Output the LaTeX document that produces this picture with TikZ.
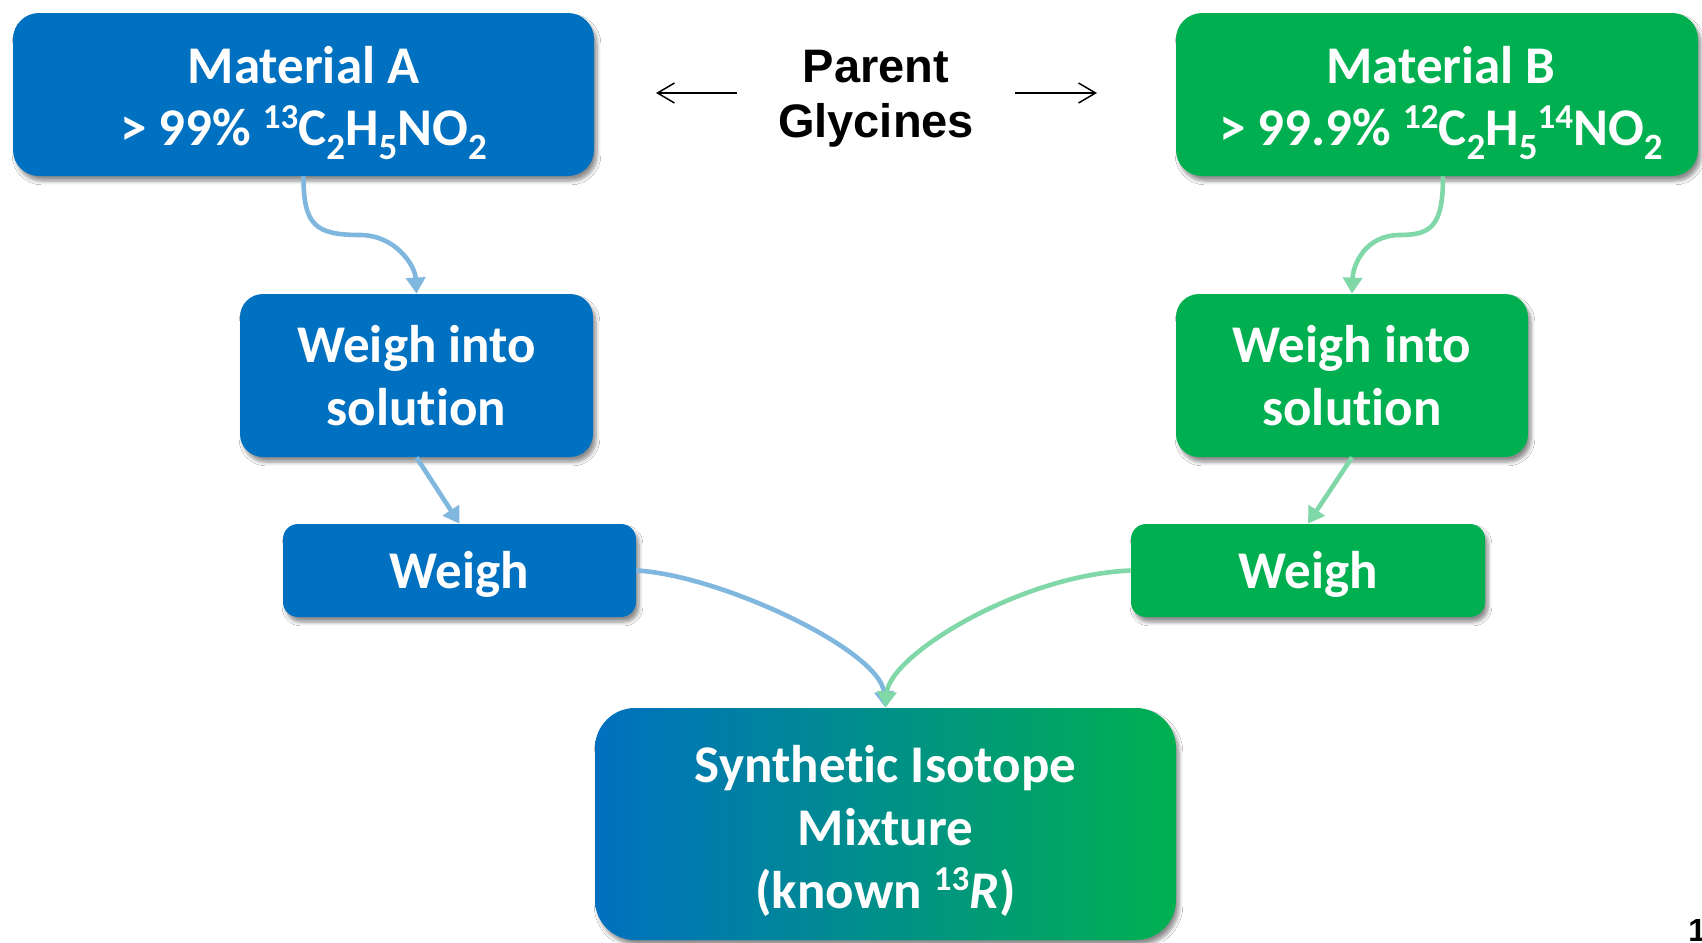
\documentclass[tikz,border=0pt]{standalone}
\usepackage{fontspec}
\setmainfont{Carlito}[Ligatures=NoCommon]
\newfontfamily\arialfont{Liberation Sans}
\usetikzlibrary{arrows.meta,shadows.blur}
\definecolor{boxblue}{HTML}{0070C0}
\definecolor{boxgreen}{HTML}{00B050}
\colorlet{lineblue}{boxblue!50!white}
\colorlet{linegreen}{boxgreen!50!white}
\newcommand{\isub}[1]{\raisebox{-7pt}{\fontsize{18.5}{18.5}\selectfont #1}}
\newcommand{\isup}[1]{\raisebox{9pt}{\fontsize{17.5}{17.5}\selectfont #1}}
\newcommand{\lines}[1]{\begin{tabular}[t]{@{}c@{}}#1\end{tabular}}
\tikzset{
  card/.style={rounded corners=#1, inner sep=0pt,
    blur shadow={shadow xshift=1.5pt, shadow yshift=-2.5pt, shadow blur steps=6, shadow opacity=45}},
  card/.default=12pt,
  bluecard/.style={card=#1, fill=boxblue},
  bluecard/.default=12pt,
  greencard/.style={card=#1, fill=boxgreen},
  greencard/.default=12pt,
  cardtext/.style={text=white, inner sep=0pt, anchor=base,
    font=\fontsize{26.5}{31.5}\selectfont\bfseries},
  bluecon/.style={draw=lineblue, line width=2.3pt, -{Triangle[length=8pt,width=9.5pt,fill=lineblue]}},
  greencon/.style={draw=linegreen, line width=2.3pt, -{Triangle[length=8pt,width=9.5pt,fill=linegreen]}},
  thinarr/.style={draw=black, line width=0.75pt, -{Straight Barb[length=8.5pt,width=10pt]}},
}
\begin{document}
\begin{tikzpicture}[x=0.5pt,y=-0.5pt]
\fill[white] (0,0) rectangle (1702,942);
\useasboundingbox (0,0) rectangle (1702,942);

% top row
\node[bluecard=13pt, minimum width=290.5pt, minimum height=81.5pt] (matA) at (303.5,94.5) {};
\node[cardtext] (matAt) at (303.5,83)
  {\lines{Material A\\> 99\% \isup{13}C\isub{2}H\isub{5}NO\isub{2}}};
\node[greencard=13pt, minimum width=261pt, minimum height=81.5pt] (matB) at (1437,94.5) {};
\node[cardtext] (matBt) at (1441,83)
  {\lines{Material B\\> 99.9\% \isup{12}C\isub{2}H\isub{5}\isup{14}NO\isub{2}}};

\node[font=\arialfont\fontsize{23.5}{28}\selectfont\bfseries, inner sep=0pt, anchor=base] (pg) at (876,82)
  {\lines{Parent\\Glycines}};
\coordinate (pgLs) at (737,93);
\coordinate (pgL) at (656,93);
\coordinate (pgRs) at (1015,93);
\coordinate (pgR) at (1097,93);
\draw[thinarr] (pgLs) -- (pgL);
\draw[thinarr] (pgRs) -- (pgR);

% second row
\node[bluecard=11.5pt, minimum width=176.5pt, minimum height=81.5pt] (wA1) at (416.5,375.5) {};
\node[cardtext] (wA1t) at (416.5,362) {\lines{Weigh into\\solution}};
\node[greencard=11.5pt, minimum width=176pt, minimum height=81.5pt] (wB1) at (1352,375.5) {};
\node[cardtext] (wB1t) at (1352,362) {\lines{Weigh into\\solution}};

% third row
\node[bluecard=7.5pt, minimum width=176.5pt, minimum height=46.5pt] (wA2) at (459.5,570.5) {};
\node[cardtext] (wA2t) at (459.5,588) {Weigh};
\node[greencard=7.5pt, minimum width=177pt, minimum height=46.5pt] (wB2) at (1308,570.5) {};
\node[cardtext] (wB2t) at (1308,588) {Weigh};

% mixture
\node[card=20pt, left color=boxblue, right color=boxgreen, minimum width=290.5pt, minimum height=116pt] (syn) at (885.5,824) {};
\node[cardtext] (synt) at (885.5,782)
  {\lines{Synthetic Isotope\\Mixture\\(known \isup{13}\textit{R})}};

% page number (cut off)
\node[font=\arialfont\fontsize{16}{19}\selectfont\bfseries, anchor=base west, inner sep=0pt] (pnum) at (1688,941) {1};

% connectors
\draw[bluecon] (matA.south) .. controls (303.5,225) and (315,235) .. (360,235)
  .. controls (395,235) and (415,265) .. (wA1.north);
\draw[greencon] ([xshift=3pt]matB.south) .. controls (1443,225) and (1432,235) .. (1400,235)
  .. controls (1365,235) and (1353,265) .. (wB1.north);
\draw[bluecon] (wA1.south) -- (wA2.north);
\draw[greencon] (wB1.south) -- (wB2.north);
\draw[bluecon] (wA2.east) .. controls (720,575) and (880,650) .. (syn.north);
\draw[greencon] (wB2.west) .. controls (1020,575) and (890,655) .. (syn.north);
\end{tikzpicture}
\end{document}
